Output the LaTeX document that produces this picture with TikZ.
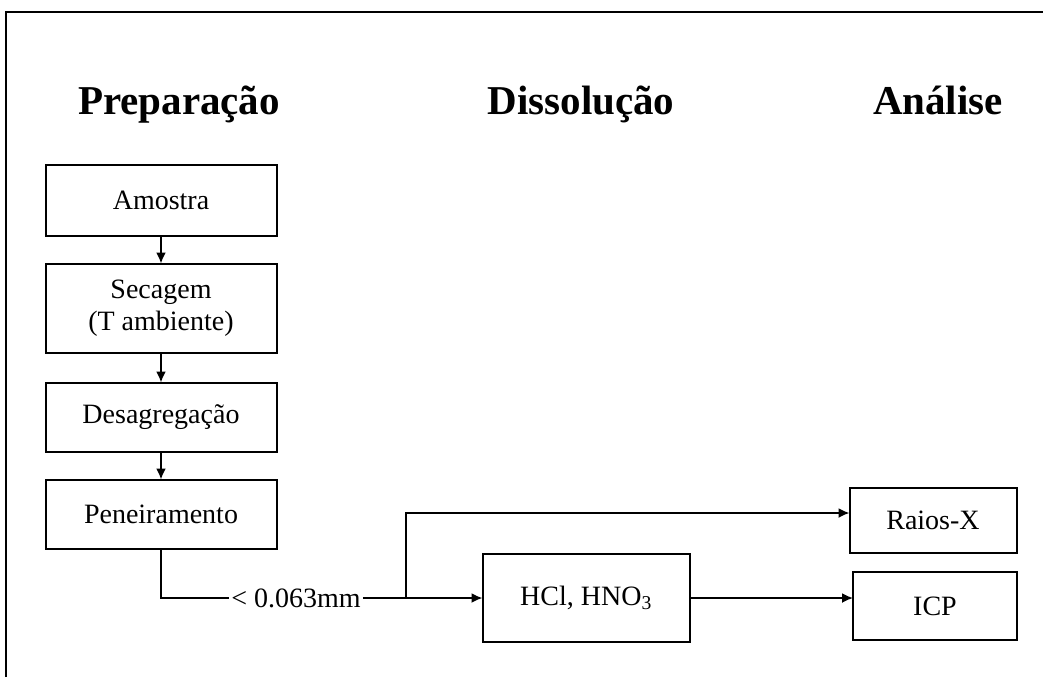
\documentclass[tikz,border=0pt]{standalone}
\usepackage{fontspec}
\setmainfont{Liberation Serif}
\usepackage{tikz}
\usetikzlibrary{arrows.meta,calc,positioning}

\begin{document}
\begin{tikzpicture}[
  x=1pt, y=-1pt,
  font=\fontsize{28}{32}\selectfont,
  node distance=28pt,
  box/.style={draw, line width=2pt, align=center, inner sep=3pt, outer sep=0pt, minimum width=231pt},
  head/.style={anchor=base, font=\fontsize{41}{45}\selectfont\bfseries},
  arrow/.style={-{Latex[length=11pt,width=10pt]}, line width=1.8pt}
]
\useasboundingbox (0,0) rectangle (1043,677);
% frame
\draw[line width=2pt] (6,677) -- (6,12) -- (1043,12);
% column headings
\node[head] (hprep) at (179,114) {Preparação};
\node[head] (hdiss) at (581,114) {Dissolução};
\node[head] (hanal) at (938,114) {Análise};
% preparation steps
\node[box, minimum height=71pt] (amostra) at (161,200) {Amostra};
\node[box, minimum height=89pt, below=of amostra] (secagem) {Secagem\\(T ambiente)};
\node[box, minimum height=69pt, below=30pt of secagem] (desag) {Desagregação};
\node[box, minimum height=69pt, below=of desag] (peneira) {Peneiramento};
% sieve fraction
\node[inner sep=2pt] (fracao) at (296,598) {< 0.063mm};
\coordinate (split) at (406,598);
% dissolution and analysis
\node[box, minimum width=207pt, minimum height=88pt] (hcl) at (586,598) {HCl, HNO\textsubscript{3}};
\node[box, minimum width=167pt, minimum height=65pt] (raios) at (933,520) {Raios-X};
\node[box, minimum width=164pt, minimum height=68pt] (icp) at (935,606) {ICP};
\draw[arrow] (amostra) -- (secagem);
\draw[arrow] (secagem) -- (desag);
\draw[arrow] (desag) -- (peneira);
\draw[line width=1.8pt] (peneira.south) |- (fracao.west);
\draw[arrow] (fracao.east) -- (hcl.west);
\draw[arrow] (split) |- ([yshift=7pt]raios.west);
\draw[arrow] (hcl.east) -- (hcl.east -| icp.west);
\end{tikzpicture}
\end{document}
